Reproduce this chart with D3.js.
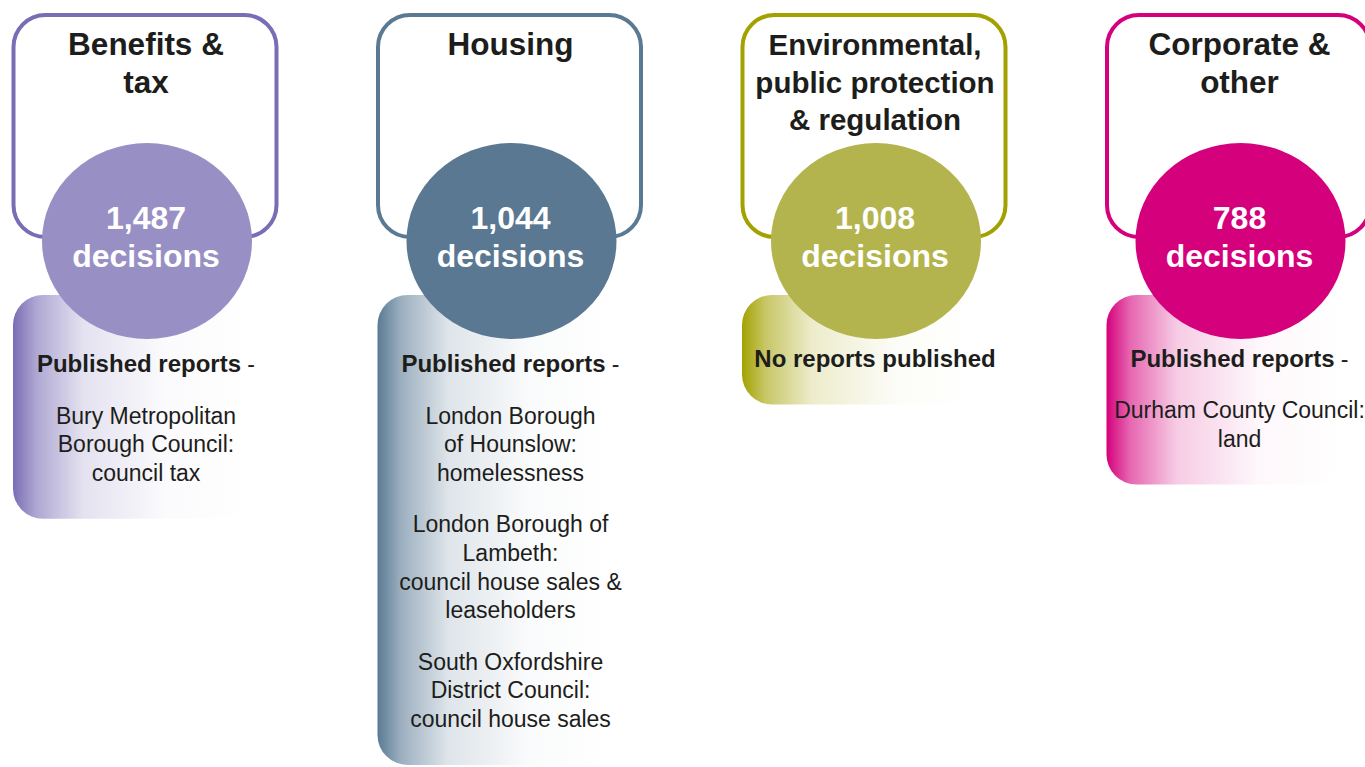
<!DOCTYPE html>
<html>
<head>
<meta charset="utf-8">
<script src="https://cdn.jsdelivr.net/npm/d3@7"></script>
<style>
  body { margin: 0; background: #fff; }
  svg { display: block; font-family: "Liberation Sans", Arial, sans-serif; }
</style>
</head>
<body>
<script>
// data
const categories = ['Benefits & tax', 'Housing', 'Environmental, public protection & regulation', 'Corporate & other'];
const titleLines = [['Benefits &', 'tax'], ['Housing'], ['Environmental,', 'public protection', '& regulation'], ['Corporate &', 'other']];
const decisions = [1487, 1044, 1008, 788];
const reportHeadings = ['Published reports', 'Published reports', 'No reports published', 'Published reports'];
const reports = [
  [['Bury Metropolitan', 'Borough Council:', 'council tax']],
  [['London Borough', 'of Hounslow:', 'homelessness'],
   ['London Borough of', 'Lambeth:', 'council house sales &', 'leaseholders'],
   ['South Oxfordshire', 'District Council:', 'council house sales']],
  [],
  [['Durham County Council:', 'land']]
];
const strokeColors = ['#7a6db5', '#5a7a94', '#a3a100', '#d5007c'];
const fillColors = ['#9890c5', '#5a7892', '#b4b44e', '#d5007c'];

let width = 1365, height = 767;
let boxW = 263, boxTop = 15, boxBottom = 237;
let rx = 105, ry = 98, cy = 241;
let lineH = 28.6, paraGap = 23;
let textColor = '#1d1d1b';

let xScale = d3.scalePoint().domain(categories).range([146, 1239.5]);

const svg = d3.select('body').append('svg')
  .attr('width', width)
  .attr('height', height);

const defs = svg.append('defs');
categories.forEach((c, i) => {
  let g = defs.append('linearGradient').attr('id', 'grad' + i);
  g.append('stop').attr('offset', 0).attr('stop-color', strokeColors[i]).attr('stop-opacity', 1);
  g.append('stop').attr('offset', 0.1).attr('stop-color', strokeColors[i]).attr('stop-opacity', 0.6);
  g.append('stop').attr('offset', 0.3).attr('stop-color', strokeColors[i]).attr('stop-opacity', 0.2);
  g.append('stop').attr('offset', 0.65).attr('stop-color', strokeColors[i]).attr('stop-opacity', 0.03);
  g.append('stop').attr('offset', 1).attr('stop-color', strokeColors[i]).attr('stop-opacity', 0);
});

const cols = svg.selectAll('g.col')
  .data(categories)
  .enter()
  .append('g')
  .attr('class', 'col')
  .attr('transform', d => 'translate(' + xScale(d) + ',0)');

// outlined title box
cols.append('rect')
  .attr('x', -boxW / 2 - 1)
  .attr('y', boxTop)
  .attr('width', boxW)
  .attr('height', boxBottom - boxTop)
  .attr('rx', 32)
  .attr('fill', '#fff')
  .attr('stroke', (d, i) => strokeColors[i])
  .attr('stroke-width', 4);

cols.each(function (d, i) {
  let g = d3.select(this);
  let long = titleLines[i].length > 2;
  g.append('text')
    .attr('text-anchor', 'middle')
    .attr('font-weight', 'bold')
    .attr('font-size', long ? 29.5 : 31.5)
    .attr('fill', textColor)
    .selectAll('tspan')
    .data(titleLines[i])
    .enter()
    .append('tspan')
    .attr('x', 0)
    .attr('y', (t, j) => (long ? 55 : 54.5) + j * (long ? 37.5 : 38.5))
    .text(t => t);

  // report lines
  let headY = i < 2 ? 372 : 366.5;
  let lines = [];
  let y = headY + 51.5;
  reports[i].forEach(para => {
    para.forEach(t => { lines.push({ t: t, y: y }); y += lineH; });
    y += paraGap;
  });
  let lastY = lines.length ? lines[lines.length - 1].y : headY;

  // gradient panel
  g.append('rect')
    .attr('x', -133)
    .attr('y', 295)
    .attr('width', 235)
    .attr('height', lastY + 38 - 295)
    .attr('rx', 30)
    .attr('fill', 'url(#grad' + i + ')');

  // circle
  g.append('ellipse')
    .attr('cx', 1)
    .attr('cy', cy)
    .attr('rx', rx)
    .attr('ry', ry)
    .attr('fill', fillColors[i]);

  let num = g.append('text')
    .attr('text-anchor', 'middle')
    .attr('font-weight', 'bold')
    .attr('font-size', 32)
    .attr('fill', '#fff');
  num.append('tspan').attr('x', 0).attr('y', 228.5).text(d3.format(',')(decisions[i]));
  num.append('tspan').attr('x', 0).attr('y', 267).text('decisions');

  let head = g.append('text')
    .attr('text-anchor', 'middle')
    .attr('font-size', 23)
    .attr('fill', textColor)
    .attr('x', 0)
    .attr('y', headY);
  head.append('tspan').attr('font-weight', 'bold').attr('font-size', 24).text(reportHeadings[i]);
  if (reports[i].length) head.append('tspan').text(' -');

  g.selectAll('text.rep')
    .data(lines)
    .enter()
    .append('text')
    .attr('class', 'rep')
    .attr('text-anchor', 'middle')
    .attr('font-size', 23)
    .attr('fill', textColor)
    .attr('x', 0)
    .attr('y', l => l.y)
    .text(l => l.t);
});
</script>
</body>
</html>
